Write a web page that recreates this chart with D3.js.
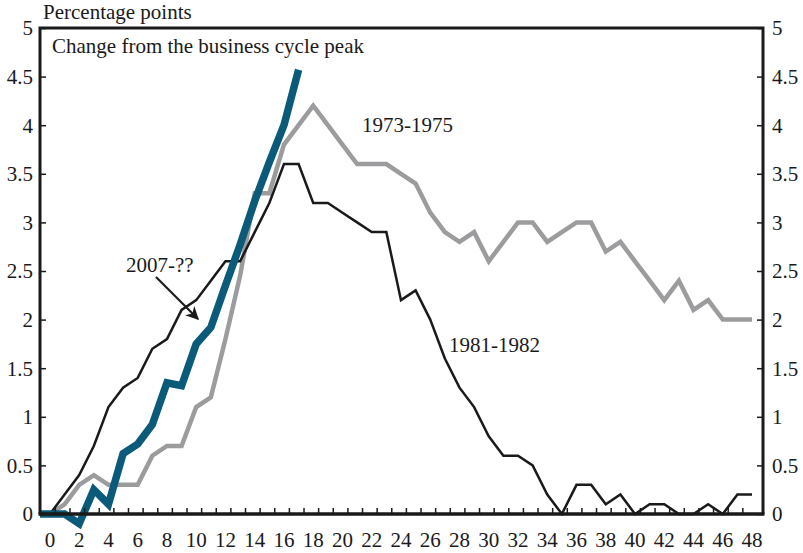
<!DOCTYPE html>
<html>
<head>
<meta charset="utf-8">
<script src="https://cdn.jsdelivr.net/npm/d3@7"></script>
<style>
  body { margin: 0; background: #fff; }
  text { font-family: "Liberation Serif", "Times New Roman", serif; fill: #1a1a1a; }
</style>
</head>
<body>
<div id="chart"></div>
<script>
const margin = {top: 28, right: 40, bottom: 39, left: 40};

const WIDTH = 803
const HEIGHT = 553

const width = WIDTH - margin.left - margin.right;
const height = HEIGHT - margin.top - margin.bottom;

const FONT = '21px';

// months after the business cycle peak
const months = d3.range(0, 49);
const xTickLabels = d3.range(0, 49, 2);
const yTicks = [0, 0.5, 1, 1.5, 2, 2.5, 3, 3.5, 4, 4.5, 5];

// change in unemployment rate, percentage points
const recession1973 = [0, 0.1, 0.3, 0.4, 0.3, 0.3, 0.3, 0.6, 0.7, 0.7, 1.1, 1.2, 1.8, 2.45, 3.3, 3.3, 3.8, 4.0, 4.2,
  4.0, 3.8, 3.6, 3.6, 3.6, 3.5, 3.4, 3.1, 2.9, 2.8, 2.9, 2.6, 2.8, 3.0, 3.0, 2.8, 2.9, 3.0, 3.0, 2.7, 2.8,
  2.6, 2.4, 2.2, 2.4, 2.1, 2.2, 2.0, 2.0, 2.0];
const recession1981 = [0, 0.2, 0.4, 0.7, 1.1, 1.3, 1.4, 1.7, 1.8, 2.1, 2.2, 2.4, 2.6, 2.6, 2.9, 3.2, 3.6, 3.6, 3.2,
  3.2, 3.1, 3.0, 2.9, 2.9, 2.2, 2.3, 2.0, 1.6, 1.3, 1.1, 0.8, 0.6, 0.6, 0.5, 0.2, 0, 0.3, 0.3, 0.1, 0.2,
  0, 0.1, 0.1, 0, 0, 0.1, 0, 0.2, 0.2];
const recession2007 = [0, 0, -0.1, 0.25, 0.1, 0.62, 0.72, 0.92, 1.35, 1.32, 1.75, 1.92, 2.35, 2.77, 3.22, 3.62, 4.0, 4.57];

const svg = d3.select('#chart')
    .append('svg')
        .attr('width', WIDTH)
        .attr('height', HEIGHT)

const g = svg.append('g')
        .attr('transform', `translate(${margin.left},${margin.top})`)

const x = d3.scaleLinear()
    .domain([-0.68, 48.75])
    .range([0, width]);

const y = d3.scaleLinear()
    .domain([0, 5])
    .range([height, 0]);

const line = d3.line()
    .x((d, i) => x(i))
    .y(d => y(d));

// series: gray, black, then the thick blue one on top
g.append('path')
    .datum(recession1973)
    .attr('fill', 'none')
    .attr('stroke', '#9c9c9e')
    .attr('stroke-width', 4.5)
    .attr('d', line);

g.append('path')
    .datum(recession1981)
    .attr('fill', 'none')
    .attr('stroke', '#1a1a1a')
    .attr('stroke-width', 2.5)
    .attr('d', line);

// the 2007 line starts flat from the left frame
g.append('path')
    .datum(recession2007)
    .attr('fill', 'none')
    .attr('stroke', '#0b5a79')
    .attr('stroke-width', 7.5)
    .attr('d', d => 'M0,' + y(d[0]) + 'L' + line(d).slice(1));

// left and right axes, ticks pointing inward
const axisLeft = d3.axisRight(y).tickValues(yTicks).tickSize(6).tickFormat('');
const axisRight = d3.axisLeft(y).tickValues(yTicks).tickSize(6).tickFormat('');

g.append('g').call(axisLeft);
g.append('g').attr('transform', `translate(${width},0)`).call(axisRight);

g.selectAll('.tick line').attr('stroke', '#1a1a1a').attr('stroke-width', 1.5);

// y tick labels on both sides
g.selectAll('.ylabL').data(yTicks).enter().append('text')
    .attr('x', -7)
    .attr('y', d => y(d))
    .attr('dy', '0.35em')
    .attr('text-anchor', 'end')
    .style('font-size', FONT)
    .text(d => d);

g.selectAll('.ylabR').data(yTicks).enter().append('text')
    .attr('x', width + 9)
    .attr('y', d => y(d))
    .attr('dy', '0.35em')
    .attr('text-anchor', 'start')
    .style('font-size', FONT)
    .text(d => d);

// small month ticks along the bottom
g.selectAll('.xtick').data(months.slice(0, 48)).enter().append('line')
    .attr('x1', d => x(d + 0.37))
    .attr('x2', d => x(d + 0.37))
    .attr('y1', height)
    .attr('y2', height - 6)
    .attr('stroke', '#1a1a1a')
    .attr('stroke-width', 1.5);

g.selectAll('.xlab').data(xTickLabels).enter().append('text')
    .attr('x', d => x(d))
    .attr('y', height + 33)
    .attr('text-anchor', 'middle')
    .style('font-size', FONT)
    .text(d => d);

// frame
g.append('path')
    .attr('d', `M0,${height}V0H${width}V${height}`)
    .attr('fill', 'none')
    .attr('stroke', '#1a1a1a')
    .attr('stroke-width', 3);
g.append('line')
    .attr('x1', -1.5).attr('x2', width + 1.5)
    .attr('y1', height).attr('y2', height)
    .attr('stroke', '#1a1a1a')
    .attr('stroke-width', 3.5);

// titles
svg.append('text')
    .attr('x', 43)
    .attr('y', 19)
    .style('font-size', FONT)
    .text('Percentage points');

svg.append('text')
    .attr('x', 52)
    .attr('y', 53)
    .style('font-size', FONT)
    .text('Change from the business cycle peak');

// series labels
svg.append('text').attr('x', 362).attr('y', 132).style('font-size', FONT).text('1973-1975');
svg.append('text').attr('x', 449).attr('y', 352).style('font-size', FONT).text('1981-1982');
svg.append('text').attr('x', 126).attr('y', 272).style('font-size', FONT).text('2007-??');

// arrow pointing at the 2007 line
svg.append('defs').append('marker')
    .attr('id', 'arrow')
    .attr('viewBox', '0 0 10 10')
    .attr('refX', 9).attr('refY', 5)
    .attr('markerWidth', 6).attr('markerHeight', 6)
    .attr('markerUnits', 'strokeWidth')
    .attr('orient', 'auto')
  .append('path')
    .attr('d', 'M0,0L10,5L0,10L3,5Z')
    .attr('fill', '#1a1a1a');

svg.append('line')
    .attr('x1', 156).attr('y1', 277)
    .attr('x2', 198).attr('y2', 319)
    .attr('stroke', '#1a1a1a')
    .attr('stroke-width', 2.2)
    .attr('marker-end', 'url(#arrow)');
</script>
</body>
</html>
